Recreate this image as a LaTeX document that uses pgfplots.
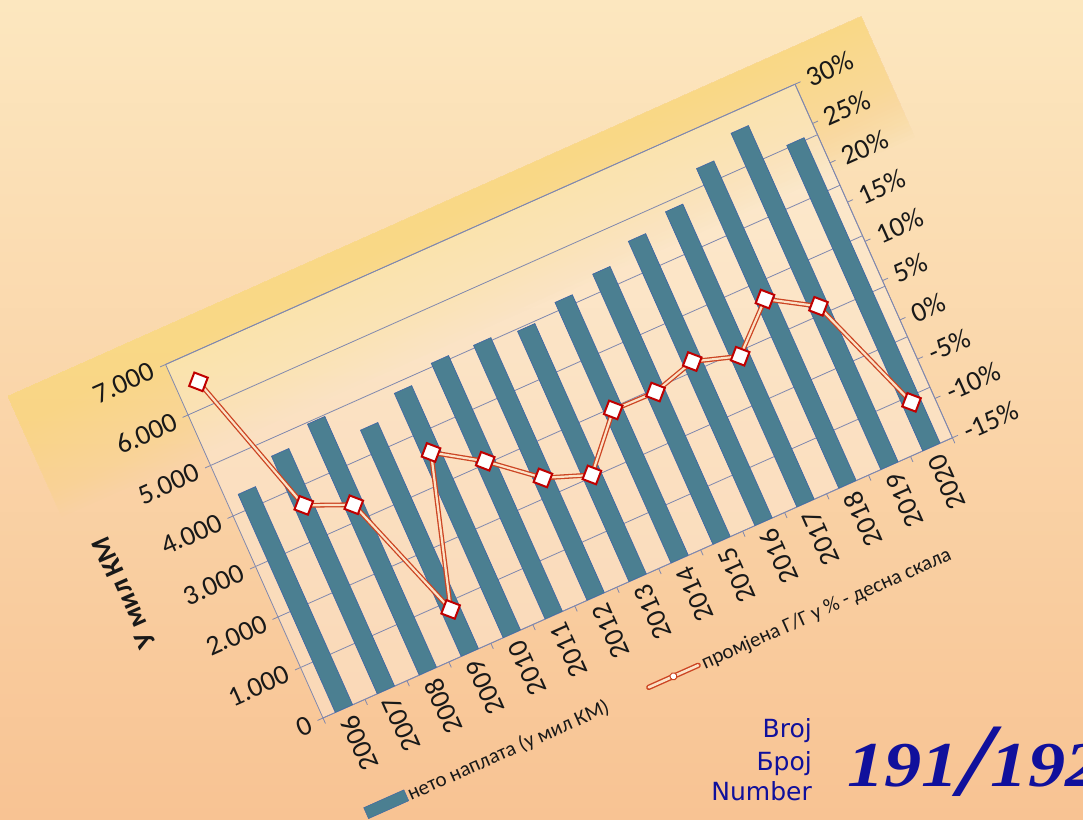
\documentclass[border=0pt]{standalone}
\usepackage{pgfplots}
\usepackage{pgfplotstable}
\pgfplotsset{compat=1.18}
\usepackage{fontspec}
\setmainfont{Carlito}
\newfontfamily\verdanafont{DejaVu Sans}
\newfontfamily\numfont{Liberation Serif}

\definecolor{bgtop}{HTML}{FCE7BF}
\definecolor{bgbot}{HTML}{F8C393}
\definecolor{panelyel}{HTML}{F9D886}
\definecolor{barfill}{HTML}{4B7F91}
\definecolor{barline}{HTML}{3E63A6}
\definecolor{gridc}{HTML}{8088AE}
\definecolor{linered}{HTML}{CC4422}
\definecolor{linein}{HTML}{FBE2C6}
\definecolor{markred}{HTML}{C00000}
\definecolor{navy}{HTML}{10109C}

% year index, net collection (mil KM), change y/y (%)
\pgfplotstableread{
x net chg
0 4320 26.6
1 4705 8.5
2 4970 6.2
3 4480 -9.5
4 4840 8.1
5 5065 4.6
6 5050 0.1
7 4960 -1.9
8 5160 4.0
9 5350 3.9
10 5630 5.4
11 5845 3.7
12 6330 8.6
13 6660 5.3
14 6050 -9.3
}\datatable

\pgfplotsset{
  chartbase/.style={
    at={(0,0)}, anchor=south west, scale only axis,
    width=689pt, height=387pt,
    xmin=-0.5, xmax=14.5,
    tick align=outside, major tick length=6pt,
    every tick/.style={draw=gridc, line width=0.8pt},
    axis line style={draw=gridc, line width=0.8pt},
    tick label style={font=\fontsize{28}{30}\selectfont, text=black!90},
  }
}

\begin{document}
\begin{tikzpicture}[x=1pt,y=1pt]
\path[use as bounding box] (0,0) rectangle (1083,819);
\clip (0,0) rectangle (1083,819);
\shade[top color=bgtop, bottom color=bgbot] (0,0) rectangle (1083,819);

\begin{scope}[transform canvas={shift={(323,101)}, rotate=24}]
  \foreach \i in {0,...,32} {
    \fill[panelyel, fill opacity=0.055] (-157,{290+4*\i}) rectangle (777,422);
  }
  \fill[white, fill opacity=0.3] (0,0) rectangle (689,387);

  \begin{axis}[chartbase,
    ymin=0, ymax=7000, ytick={0,1000,...,7000},
    yticklabels={0,1.000,2.000,3.000,4.000,5.000,6.000,7.000},
    ytick pos=left, xtick pos=bottom,
    ymajorgrids, grid style={draw=gridc, line width=0.8pt},
    xtick={-0.5,0.5,...,14.5},
    x tick label as interval,
    xticklabels={2006,2007,2008,2009,2010,2011,2012,2013,2014,2015,2016,2017,2018,2019,2020},
    xticklabel style={rotate=90, anchor=east},
    yticklabel style={xshift=-4pt},
    ylabel={\bfseries У мил КМ},
    ylabel style={at={(rel axis cs:-0.19,0.505)}, anchor=center, font=\fontsize{28}{30}\selectfont, text=black!90},
  ]
  \addplot[ybar, bar width=19pt, fill=barfill, draw=barline, line width=0.6pt]
    table[x=x, y=net] {\datatable};
  \end{axis}

  \begin{axis}[chartbase,
    ymin=-15, ymax=30, ytick={-15,-10,...,30},
    yticklabels={-15\%,-10\%,-5\%,0\%,5\%,10\%,15\%,20\%,25\%,30\%},
    axis x line=none, axis y line*=right,
    yticklabel style={xshift=4pt},
    legend columns=2,
    legend cell align=left,
    legend style={at={(0.466,-0.27)}, anchor=center, draw=none, fill=none,
      font=\fontsize{21}{24}\selectfont, text=black!90,
      /tikz/every even column/.append style={column sep=40pt}},
  ]
  \addlegendimage{legend image code/.code={
      \draw[fill=barfill, draw=barline] (0pt,-6pt) rectangle (44pt,6pt);}}
  \addlegendentry{нето наплата (у мил КМ)}
  \addlegendimage{legend image code/.code={
      \draw[linered, line width=1.4pt, double=linein, double distance=2.6pt, line cap=round] (0pt,0pt) -- (54pt,0pt);
      \draw[linered, fill=white, line width=1pt] (27pt,0pt) circle (3.5pt);}}
  \addlegendentry{промјена Г/Г у \% - десна скала}
  \addplot[forget plot, linered, line width=1.3pt, double=linein, double distance=2.2pt]
    table[x=x, y=chg] {\datatable};
  \addplot[forget plot, only marks, mark=square*, mark size=7.2pt,
    mark options={rotate=45, fill=white, draw=markred, line width=2pt}]
    table[x=x, y=chg] {\datatable};
  \end{axis}
\end{scope}

\begin{scope}[font=\verdanafont\fontsize{25}{30}\selectfont, text=navy]
  \node[anchor=base east, inner sep=0pt] at (812,82) {Broj};
  \node[anchor=base east, inner sep=0pt] at (812,49) {Број};
  \node[anchor=base east, inner sep=0pt] at (812,19) {Number};
\end{scope}
\node[anchor=base west, inner sep=0pt, text=navy,
  font=\numfont\bfseries\itshape\fontsize{64}{64}\selectfont] at (847,33)
  {\scalebox{1.16}[1]{191\kern1pt\raisebox{-9pt}{\fontsize{104}{104}\selectfont/}\kern-2pt192}};
\end{tikzpicture}
\end{document}
